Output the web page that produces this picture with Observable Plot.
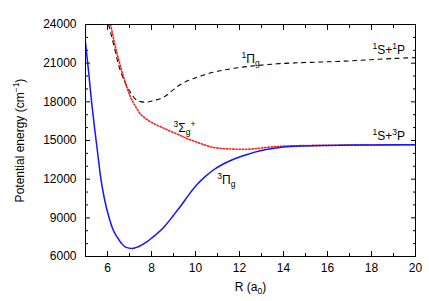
<!DOCTYPE html>
<html><head><meta charset="utf-8">
<script src="https://cdn.jsdelivr.net/npm/d3@7"></script>
<script src="https://cdn.jsdelivr.net/npm/@observablehq/plot@0.6"></script>
<style>body{margin:0;background:#fff;} svg{font-family:"Liberation Sans",Arial,sans-serif;}</style>
</head><body><div id="chart"></div>
<script>
// 3Πg (blue solid)
const R_3Pi = [5.0, 5.14, 5.27, 5.41, 5.55, 5.68, 5.86, 6.06, 6.23, 6.44, 6.64, 6.82, 7.12, 7.4, 7.8, 8.0, 8.56, 9.0, 9.32, 9.7, 10.08, 10.45, 10.83, 11.2, 11.6, 12.0, 12.35, 12.95, 13.5, 14, 15, 16, 18, 20];
const E_3Pi = [22600, 20350, 18100, 16000, 14070, 12250, 10480, 9080, 8180, 7500, 7010, 6730, 6630, 6760, 7150, 7420, 8270, 9200, 9900, 10800, 11600, 12220, 12730, 13120, 13450, 13720, 13920, 14200, 14380, 14490, 14580, 14620, 14650, 14670];
// 3Σg+ (red dotted)
const R_3Sig = [6.14, 6.3, 6.6, 6.8, 7.05, 7.27, 7.5, 7.7, 7.95, 8.3, 8.56, 9.0, 9.32, 9.7, 10.08, 10.45, 10.8, 11.2, 11.6, 12.0, 12.35, 12.8, 13.3, 14, 15, 16, 18, 20];
const E_3Sig = [24000, 22700, 20690, 19550, 18360, 17650, 17050, 16750, 16450, 16150, 15950, 15620, 15380, 15100, 14860, 14640, 14470, 14380, 14340, 14320, 14320, 14380, 14480, 14560, 14610, 14630, 14650, 14670];
// 1Πg (black dashed)
const R_1Pi = [6.05, 6.3, 6.5, 6.82, 7.05, 7.36, 7.73, 8.1, 8.56, 9.0, 9.32, 9.7, 10.08, 10.8, 11.6, 12.35, 13.0, 13.7, 14.5, 15.5, 16.4, 17.5, 18.5, 19.8, 20];
const E_1Pi = [24000, 22300, 20900, 19420, 18720, 18100, 17970, 18100, 18360, 18950, 19350, 19680, 19910, 20300, 20560, 20740, 20850, 20950, 21020, 21080, 21130, 21220, 21320, 21420, 21430];

const xTicks = [6, 8, 10, 12, 14, 16, 18, 20];
const xMinor = [5, 7, 9, 11, 13, 15, 17, 19];
const yTicks = [6000, 9000, 12000, 15000, 18000, 21000, 24000];
const yMinor = [7000, 8000, 10000, 11000, 13000, 14000, 16000, 17000, 19000, 20000, 22000, 23000];

const labelText = ["^1Π_g", "^3Σ_g^+", "^1S+^1P", "^1S+^3P", "^3Π_g"];
const labelR = [12.09, 9.0, 18.05, 18.05, 10.99];
const labelE = [21300, 15950, 22000, 15320, 11900];

const xLabel = "R (a_0)";
const yLabel = "Potential energy (cm^{-1})";

const series = (R, E) => R.map((r, i) => ({r, e: E[i]}));
const labels = labelText.map((t, i) => ({t, r: labelR[i], e: labelE[i]}));
const blank = () => "";

const plot = Plot.plot({
  width: 429, height: 301,
  marginLeft: 85, marginRight: 14, marginTop: 24, marginBottom: 45,
  style: {fontFamily: "Liberation Sans, Arial, sans-serif", fontSize: "12px", background: "white", color: "black"},
  x: {domain: [5, 20]},
  y: {domain: [6000, 24000]},
  marks: [
    Plot.axisX({ticks: xTicks, tickSize: 0, tickPadding: 7, tickFormat: d => String(d), label: null, fontSize: 12}),
    Plot.axisX({ticks: xTicks, tickSize: -5, tickFormat: blank, label: null}),
    Plot.axisX({ticks: xMinor, tickSize: -3, tickFormat: blank, label: null}),
    Plot.axisX({anchor: "top", ticks: xTicks, tickSize: -5, tickFormat: blank, label: null}),
    Plot.axisX({anchor: "top", ticks: xMinor, tickSize: -3, tickFormat: blank, label: null}),
    Plot.axisY({ticks: yTicks, tickSize: 0, tickPadding: 9, tickFormat: d => String(d), label: null, fontSize: 12}),
    Plot.axisY({ticks: yTicks, tickSize: -5, tickFormat: blank, label: null}),
    Plot.axisY({ticks: yMinor, tickSize: -3, tickFormat: blank, label: null}),
    Plot.axisY({anchor: "right", ticks: yTicks, tickSize: -5, tickFormat: blank, label: null}),
    Plot.axisY({anchor: "right", ticks: yMinor, tickSize: -3, tickFormat: blank, label: null}),
    Plot.line(series(R_1Pi, E_1Pi), {x: "r", y: "e", stroke: "black", strokeWidth: 1.1, strokeDasharray: "4,4.5", curve: "monotone-x", clip: true}),
    Plot.line(series(R_3Sig, E_3Sig), {x: "r", y: "e", stroke: "#ff1a1a", strokeWidth: 1.6, strokeDasharray: "1.3,1.9", curve: "monotone-x", clip: true}),
    Plot.line(series(R_3Pi, E_3Pi), {x: "r", y: "e", stroke: "#1414ff", strokeWidth: 1.5, curve: "monotone-x", clip: true}),
    Plot.frame({stroke: "black", strokeWidth: 1}),
    Plot.text(labels, {x: "r", y: "e", text: "t", textAnchor: "start", lineAnchor: "middle", fontSize: 12, fill: "black"}),
    Plot.text([xLabel], {frameAnchor: "bottom", dy: 31, text: d => d, textAnchor: "middle", lineAnchor: "middle", fontSize: 12}),
    Plot.text([yLabel], {frameAnchor: "left", dx: -65, rotate: -90, text: d => d, textAnchor: "middle", lineAnchor: "middle", fontSize: 12})
  ]
});

// rich text: ^x superscript, _x subscript
function richify(el) {
  const s = el.textContent;
  if (!/[\^_]/.test(s)) return;
  while (el.firstChild) el.removeChild(el.firstChild);
  const NS = "http://www.w3.org/2000/svg";
  let cur = 0, i = 0;
  const add = (txt, shift, small) => {
    const t = document.createElementNS(NS, "tspan");
    t.textContent = txt;
    const d = shift - cur;
    if (d) t.setAttribute("dy", d);
    if (small) t.setAttribute("font-size", "8.5");
    cur = shift;
    el.appendChild(t);
  };
  let buf = "";
  const flush = () => { if (buf) { add(buf, 0, false); buf = ""; } };
  while (i < s.length) {
    const c = s[i];
    if (c === "^" || c === "_") {
      flush();
      let tok;
      if (s[i + 1] === "{") { const j = s.indexOf("}", i); tok = s.slice(i + 2, j); i = j + 1; }
      else { tok = s[i + 1]; i += 2; }
      add(tok.replace("-", "−"), c === "^" ? -5 : 3, true);
    } else { buf += c; i++; }
  }
  flush();
}
plot.querySelectorAll("text").forEach(richify);
document.getElementById("chart").appendChild(plot);
</script></body></html>
